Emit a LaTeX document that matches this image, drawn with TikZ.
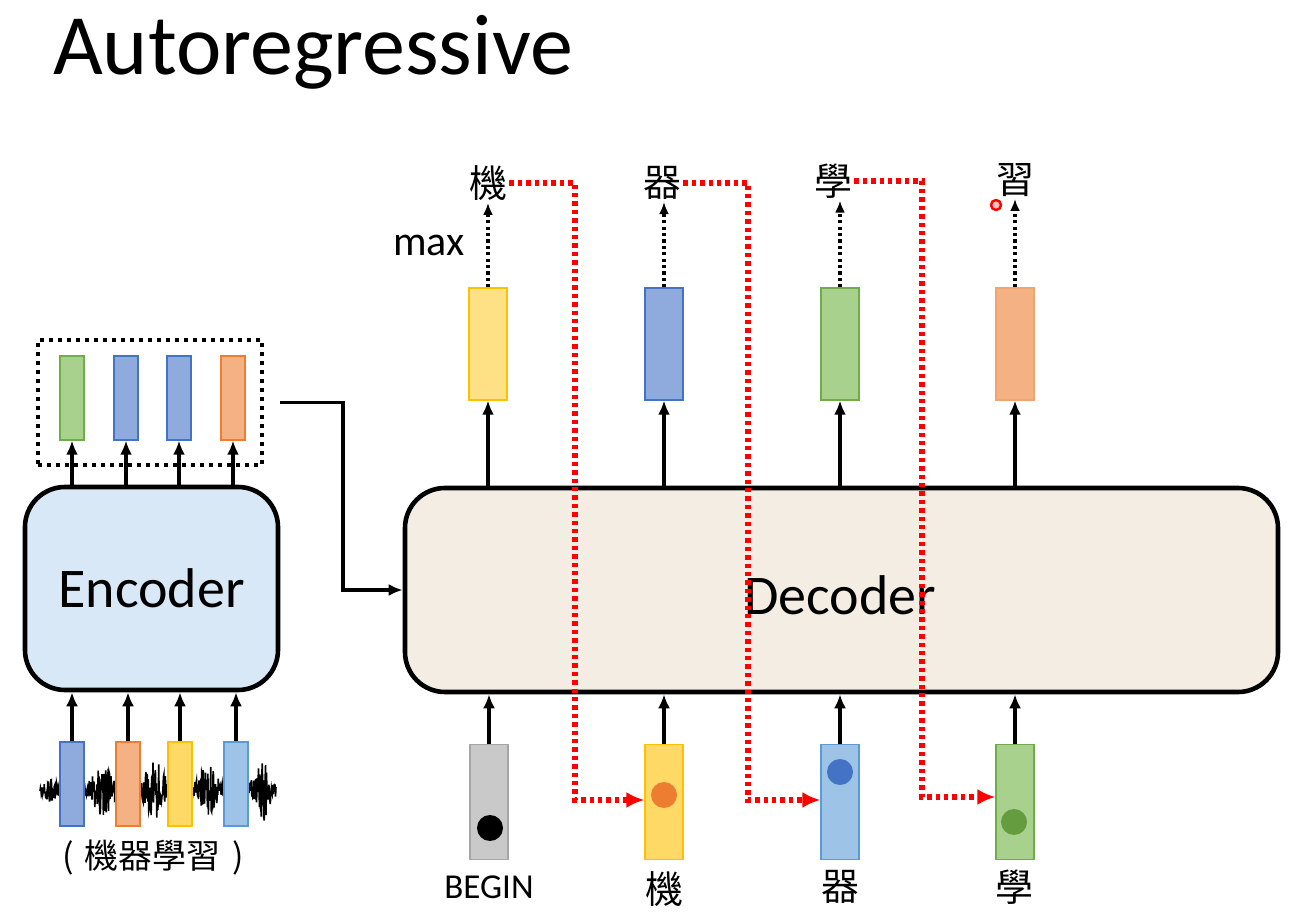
\documentclass[tikz,border=0pt]{standalone}
\usepackage{fontspec}
\setmainfont{Carlito}
\newfontfamily\cjk{Noto Sans CJK TC}
\usetikzlibrary{arrows.meta,positioning,calc}
\definecolor{GrnFill}{HTML}{A9D18E}
\definecolor{GrnLine}{HTML}{70AD47}
\definecolor{BluFill}{HTML}{8FAADC}
\definecolor{BluLine}{HTML}{4472C4}
\definecolor{OrgFill}{HTML}{F4B183}
\definecolor{OrgLine}{HTML}{ED7D31}
\definecolor{YelFill}{HTML}{FFD966}
\definecolor{YelLine}{HTML}{FFC000}
\definecolor{SkyFill}{HTML}{9DC3E6}
\definecolor{SkyLine}{HTML}{5B9BD5}
\definecolor{GryFill}{HTML}{C9C9C9}
\definecolor{GryLine}{HTML}{A5A5A5}
\definecolor{EncClr}{HTML}{D9E8F6}
\definecolor{DecClr}{HTML}{F4EDE3}

\tikzset{
  vec/.style={draw, line width=0.6pt, inner sep=0, minimum width=12pt, minimum height=42pt},
  bigvec/.style={vec, minimum width=19pt, minimum height=56pt},
  block/.style={draw, line width=2.3pt, rounded corners=20pt, inner sep=0},
  arr/.style={-{Latex[length=7pt,width=6pt]}, line width=1.9pt},
  maxarr/.style={-{Latex[length=6pt,width=5pt]}, line width=1.7pt, dash pattern=on 1.6pt off 1.6pt},
  redarr/.style={-{Latex[length=9pt,width=8pt]}, red, line width=2.7pt, dash pattern=on 2.2pt off 2pt},
  zh/.style={font=\cjk\fontsize{19pt}{19pt}\selectfont, inner sep=1pt},
  tok/.style={circle, inner sep=0, minimum size=13pt},
}

\begin{document}
\begin{tikzpicture}[x=0.5pt, y=-0.5pt]
\useasboundingbox (0,0) rectangle (1308,914);

\node[anchor=base west, font=\fontsize{43pt}{43pt}\selectfont] (title) at (46,75) {Autoregressive};

% encoder side
\node[block, fill=EncClr, minimum width=126.5pt, minimum height=101.5pt,
  font=\fontsize{28pt}{28pt}\selectfont] (enc) at (151.5,588.5) {Encoder};
\node[draw, line width=2pt, dash pattern=on 2pt off 2.5pt, minimum width=112pt,
  minimum height=62.5pt, inner sep=0] (dots) at (150,402.5) {};

\node[vec, fill=GrnFill, draw=GrnLine] (ev1) at (72,398) {};
\node[vec, fill=BluFill, draw=BluLine] (ev2) at (126,398) {};
\node[vec, fill=BluFill, draw=BluLine] (ev3) at (179,398) {};
\node[vec, fill=OrgFill, draw=OrgLine] (ev4) at (233,398) {};
\foreach \i in {1,...,4}
  \draw[arr] (enc.north -| ev\i) -- (ev\i.south);

\pgfmathsetseed{7}
\draw[line width=0.8pt] plot[domain=40:276, samples=500, variable=\t]
  (\t, {790 + (3 + 10*max(0,1-abs(\t-50)/12) + 26*max(0,1-abs(\t-103)/18)
   + 32*max(0,1-abs(\t-155)/18) + 24*max(0,1-abs(\t-208)/18)
   + 30*max(0,1-abs(\t-263)/15))*rand});

\node[vec, fill=BluFill, draw=BluLine] (iv1) at (72,784) {};
\node[vec, fill=OrgFill, draw=OrgLine] (iv2) at (128,784) {};
\node[vec, fill=YelFill, draw=YelLine] (iv3) at (180,784) {};
\node[vec, fill=SkyFill, draw=SkyLine] (iv4) at (236,784) {};
\foreach \i in {1,...,4}
  \draw[arr] (iv\i.north) -- (enc.south -| iv\i);

\node[font=\cjk\fontsize{17pt}{17pt}\selectfont] (src) at (153,858) {(\,\,機器學習\,\,)};

% decoder side
\node[block, fill=DecClr, minimum width=436.5pt, minimum height=102pt] (dec) at (841.5,590) {};
\node[font=\fontsize{28pt}{28pt}\selectfont] (declbl) at (840,595) {Decoder};

\draw[arr] ($(dots.east)+(16,0)$) -| (343,500) |- (dec.west);

\node[bigvec, fill=YelFill!80, draw=YelLine] (ov1) at (488,344) {};
\node[bigvec, fill=BluFill, draw=BluLine] (ov2) at (664,344) {};
\node[bigvec, fill=GrnFill, draw=GrnLine] (ov3) at (840,344) {};
\node[bigvec, fill=OrgFill, draw=OrgLine!70] (ov4) at (1015,344) {};

\node[zh] (o1) at (488,183) {機};
\node[zh] (o2) at (662,183) {器};
\node[zh] (o3) at (833,181) {學};
\node[zh] (o4) at (1015,180) {習};
\node[font=\fontsize{21pt}{21pt}\selectfont] (max) at (429,245) {max};

\foreach \i in {1,...,4} {
  \draw[arr] (dec.north -| ov\i) -- (ov\i.south);
  \draw[maxarr] (ov\i.north) -- (o\i.south -| ov\i);
}

\node[bigvec, minimum height=57.5pt, fill=GryFill, draw=GryLine] (dv1) at (489,802) {};
\node[bigvec, minimum height=57.5pt, fill=YelFill, draw=YelLine] (dv2) at (664,802) {};
\node[bigvec, minimum height=57.5pt, fill=SkyFill, draw=SkyLine] (dv3) at (840,802) {};
\node[bigvec, minimum height=57.5pt, fill=GrnFill, draw=GrnLine] (dv4) at (1015,802) {};
\foreach \i in {1,...,4}
  \draw[arr] (dv\i.north) -- (dec.south -| dv\i);

\node[tok, fill=black] (t1) at (490,828) {};
\node[tok, fill=OrgLine] (t2) at (664,795) {};
\node[tok, fill=BluLine] (t3) at (840,772) {};
\node[tok, fill=GrnLine!90!black] (t4) at (1014,822) {};

\node[font=\fontsize{17.5pt}{17.5pt}\selectfont] (b1) at (489,887) {BEGIN};
\node[zh] (b2) at (664,889) {機};
\node[zh] (b3) at (840,887) {器};
\node[zh] (b4) at (1014,887) {學};

\coordinate (r1) at (575,800);
\coordinate (r2) at (748,800);
\coordinate (r3) at (922,797);
\draw[redarr] (o1.east) -| (r1) -- (r1 -| dv2.west);
\draw[redarr] (o2.east) -| (r2) -- (r2 -| dv3.west);
\draw[redarr] (o3.east) -| (r3) -- (r3 -| dv4.west);

\node[circle, draw=red, fill=red!25, line width=1.2pt, inner sep=0, minimum size=5pt] (ptr) at (996,205) {};

\end{tikzpicture}
\end{document}
